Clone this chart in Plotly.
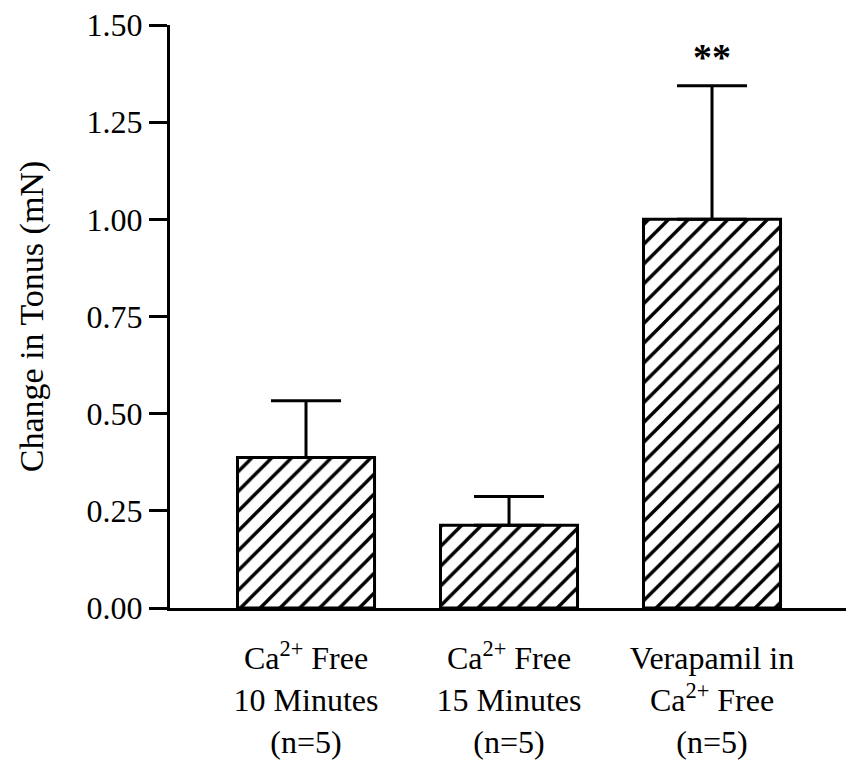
import plotly.graph_objects as go

categories = ["Ca<sup>2+</sup> Free<br>10 Minutes<br>(n=5)",
              "Ca<sup>2+</sup> Free<br>15 Minutes<br>(n=5)",
              "Verapamil in<br>Ca<sup>2+</sup> Free<br>(n=5)"]
x_pos = [0, 1, 2]
means = [0.387, 0.213, 1.0]
sem = [0.146, 0.074, 0.344]
y_ticks = [0.0, 0.25, 0.5, 0.75, 1.0, 1.25, 1.5]
y_ticktext = ["0.00", "0.25", "0.50", "0.75", "1.00", "1.25", "1.50"]
significance = ["", "", "**"]

FONT = "Liberation Serif, Times New Roman, serif"

fig = go.Figure()
fig.add_trace(go.Bar(
    x=x_pos, y=means, width=0.675,
    marker=dict(color="white",
                line=dict(color="black", width=3),
                pattern=dict(shape="/", fgcolor="black", bgcolor="white",
                             fgopacity=1, size=14, solidity=0.24)),
    error_y=dict(type="data", array=sem, arrayminus=[0, 0, 0], symmetric=False,
                 color="black", thickness=3, width=35),
    showlegend=False,
))

for xi, m, s, lab in zip(x_pos, means, sem, significance):
    if lab:
        fig.add_annotation(x=xi, y=m + s, text="<b>" + lab + "</b>", showarrow=False,
                           yanchor="bottom", yshift=6,
                           font=dict(family=FONT, size=38, color="black"))

fig.update_layout(
    width=846, height=760,
    margin=dict(l=170, r=0, t=25, b=150),
    paper_bgcolor="white", plot_bgcolor="white",
    font=dict(family=FONT, size=32, color="black"),
    bargap=0.3,
)
fig.update_xaxes(
    range=[-0.67, 2.66], tickvals=x_pos, ticktext=categories,
    showline=True, linewidth=3, linecolor="black", ticks="",
    showgrid=False, zeroline=False, ticklabelstandoff=20,
    tickfont=dict(family=FONT, size=32, color="black"),
)
fig.update_yaxes(
    range=[0, 1.5], tickvals=y_ticks, ticktext=y_ticktext,
    showline=True, linewidth=3, linecolor="black",
    ticks="outside", ticklen=18, tickwidth=3, tickcolor="black",
    showgrid=False, zeroline=False,
    tickfont=dict(family=FONT, size=32, color="black"),
    title=dict(text="Change in Tonus (mN)", standoff=33,
               font=dict(family=FONT, size=34, color="black")),
)

fig.write_html("out.html")
